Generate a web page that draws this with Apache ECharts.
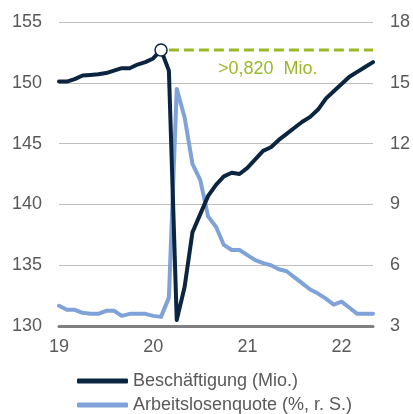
<!DOCTYPE html>
<html>
<head>
<meta charset="utf-8">
<script src="https://cdn.jsdelivr.net/npm/echarts@6/dist/echarts.min.js"></script>
<style>
  html, body { margin: 0; padding: 0; background: #ffffff; }
  #chart { width: 413px; height: 414px; }
</style>
</head>
<body>
<div id="chart"></div>
<script>
// Monthly categories, Jan 2019 .. May 2022
const months = [];
for (let y = 2019; y <= 2022; y++) {
  for (let m = 1; m <= 12; m++) {
    if (y === 2022 && m > 5) break;
    months.push(y + '-' + String(m).padStart(2, '0'));
  }
}

// Year tick labels shown at each January
const yearLabels = { '2019-01': '19', '2020-01': '20', '2021-01': '21', '2022-01': '22' };

// Beschäftigung (Mio.), left axis
const employment = [
  150.1, 150.1, 150.3, 150.6, 150.65, 150.7, 150.8, 151.0, 151.2, 151.2, 151.5, 151.7,
  152.0, 152.7, 151.0, 130.5, 133.2, 137.7, 139.2, 140.7, 141.6, 142.3, 142.6, 142.5,
  143.0, 143.7, 144.4, 144.7, 145.3, 145.8, 146.3, 146.8, 147.2, 147.8, 148.7, 149.3,
  149.9, 150.5, 150.9, 151.3, 151.7
];

// Arbeitslosenquote (%), right axis
const unemployment = [
  4.0, 3.8, 3.8, 3.65, 3.6, 3.6, 3.75, 3.75, 3.5, 3.6, 3.6, 3.6,
  3.5, 3.45, 4.4, 14.7, 13.3, 11.0, 10.2, 8.4, 7.9, 7.0, 6.75, 6.75,
  6.5, 6.25, 6.1, 6.0, 5.8, 5.7, 5.4, 5.1, 4.8, 4.6, 4.35, 4.05,
  4.2, 3.9, 3.6, 3.6, 3.6
];

const gapLabel = '>0,820  Mio.';

// Pre-crisis peak and the level line running from it to the end
const peakValue = Math.max(...employment);
const peakIndex = employment.indexOf(peakValue);
const peakLine = employment.map((_, i) => (i > peakIndex ? peakValue : null));

const employmentData = employment.map((v, i) =>
  i === peakIndex
    ? { value: v, symbol: 'circle', symbolSize: 12,
        itemStyle: { color: '#ffffff', borderColor: '#0b2540', borderWidth: 1.5 } }
    : v
);

const FONT = "'Liberation Sans', Arial, sans-serif";
const TEXT = '#595959';
const NAVY = '#0b2540';
const LIGHT = '#7fa2d8';
const GREEN = '#9bb82a';

const chart = echarts.init(document.getElementById('chart'), null, { renderer: 'canvas' });

chart.setOption({
  animation: false,
  backgroundColor: '#ffffff',
  textStyle: { fontFamily: FONT },
  grid: { left: 59, right: 40, top: 22, bottom: 88 },
  legend: {
    data: ['Beschäftigung (Mio.)', 'Arbeitslosenquote (%, r. S.)'],
    orient: 'vertical',
    left: 77,
    top: 371,
    height: 50,
    padding: 0,
    icon: 'roundRect',
    itemWidth: 51,
    itemHeight: 5,
    itemGap: 4,
    textStyle: { fontFamily: FONT, fontSize: 18, lineHeight: 20, color: TEXT }
  },
  xAxis: {
    type: 'category',
    data: months,
    boundaryGap: false,
    axisLine: { show: true, lineStyle: { color: '#7f7f7f', width: 3 } },
    axisTick: { show: false },
    axisLabel: {
      interval: 0,
      margin: 12,
      fontFamily: FONT,
      fontSize: 18,
      color: TEXT,
      formatter: (v) => yearLabels[v] || ''
    },
    splitLine: { show: false }
  },
  yAxis: [
    {
      type: 'value',
      min: 130, max: 155, interval: 5,
      axisLine: { show: false },
      axisTick: { show: false },
      axisLabel: { margin: 17, fontFamily: FONT, fontSize: 18, color: TEXT },
      splitLine: { show: true, lineStyle: { color: '#bfbfbf', width: 1 } }
    },
    {
      type: 'value',
      min: 3, max: 18, interval: 3,
      position: 'right',
      axisLine: { show: false },
      axisTick: { show: false },
      axisLabel: { margin: 17, fontFamily: FONT, fontSize: 18, color: TEXT },
      splitLine: { show: false }
    }
  ],
  series: [
    {
      name: 'peak',
      type: 'line',
      yAxisIndex: 0,
      data: peakLine,
      symbol: 'none',
      lineStyle: { color: GREEN, width: 3, type: [10, 5] },
      z: 1
    },
    {
      name: 'Beschäftigung (Mio.)',
      type: 'line',
      yAxisIndex: 0,
      data: employmentData,
      symbol: 'none',
      showSymbol: true,
      color: NAVY,
      lineStyle: { color: NAVY, width: 4, cap: 'round', join: 'round' },
      z: 3
    },
    {
      name: 'Arbeitslosenquote (%, r. S.)',
      type: 'line',
      yAxisIndex: 1,
      data: unemployment,
      symbol: 'none',
      color: LIGHT,
      lineStyle: { color: LIGHT, width: 4, cap: 'round', join: 'round' },
      z: 2
    }
  ],
  graphic: [
    {
      type: 'text',
      left: 218,
      top: 60,
      style: { text: gapLabel, fill: GREEN, font: '18px ' + FONT }
    }
  ]
});
</script>
</body>
</html>
